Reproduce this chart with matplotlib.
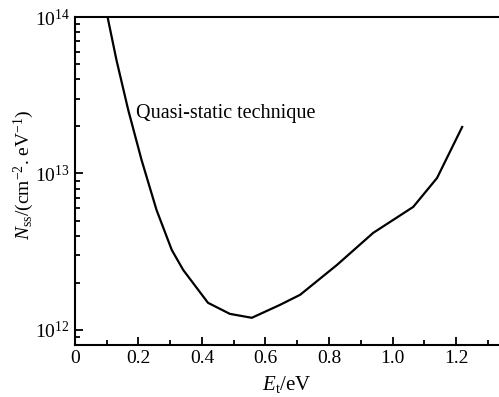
import matplotlib
matplotlib.use("Agg")
import matplotlib.pyplot as plt
from matplotlib.ticker import LogLocator, MultipleLocator, NullFormatter, FixedLocator

# energy (eV) and interface trap density (cm^-2 eV^-1)
energy = [0.103, 0.131, 0.168, 0.210, 0.257, 0.305, 0.341, 0.419, 0.488, 0.557,
          0.646, 0.709, 0.825, 0.939, 1.065, 1.140, 1.219]
log_nss = [14.0, 13.725, 13.406, 13.086, 12.767, 12.511, 12.383, 12.173, 12.102, 12.077,
           12.160, 12.224, 12.415, 12.620, 12.786, 12.971, 13.297]
nss = [10 ** v for v in log_nss]

x_ticks = [0, 0.2, 0.4, 0.6, 0.8, 1.0, 1.2]
x_tick_labels = ["0", "0.2", "0.4", "0.6", "0.8", "1.0", "1.2"]
y_ticks = [1e12, 1e13, 1e14]

plt.rcParams["font.family"] = ["Liberation Serif", "DejaVu Serif"]
plt.rcParams["mathtext.fontset"] = "custom"
plt.rcParams["mathtext.rm"] = "Liberation Serif"
plt.rcParams["mathtext.it"] = "Liberation Serif:italic"

fig = plt.figure(figsize=(4.99, 3.97), dpi=100)
ax = fig.add_axes([0.150, 0.131, 0.85, 0.826])

ax.plot(energy, nss, color="black", linewidth=1.6, solid_joinstyle="round")

ax.set_yscale("log")
ax.set_xlim(0, 1.335)
ax.set_ylim(8.0e11, 1e14)

ax.xaxis.set_major_locator(FixedLocator(x_ticks))
ax.set_xticklabels(x_tick_labels)
ax.xaxis.set_minor_locator(MultipleLocator(0.1))
ax.yaxis.set_major_locator(FixedLocator(y_ticks))
ax.yaxis.set_minor_locator(LogLocator(base=10, subs=range(2, 10)))
ax.yaxis.set_minor_formatter(NullFormatter())

ax.tick_params(which="both", direction="in", top=False, right=False,
               labelsize=14, width=1.3)
ax.tick_params(which="major", length=6)
ax.tick_params(which="minor", length=3.5)

for side in ["left", "bottom", "top"]:
    ax.spines[side].set_linewidth(1.5)
ax.spines["right"].set_visible(False)

ax.text(0.192, 2.4e13, "Quasi-static technique", fontsize=14.5, va="center")

ax.set_xlabel(r"$E_{\rm t}$/eV", fontsize=15, labelpad=5)
ax.set_ylabel(r"$N_{\rm ss}$/(cm$^{-2}$. eV$^{-1}$)", fontsize=14, va="center")
ax.yaxis.set_label_coords(-0.12, 0.52)

fig.savefig("out.png", dpi=100)
